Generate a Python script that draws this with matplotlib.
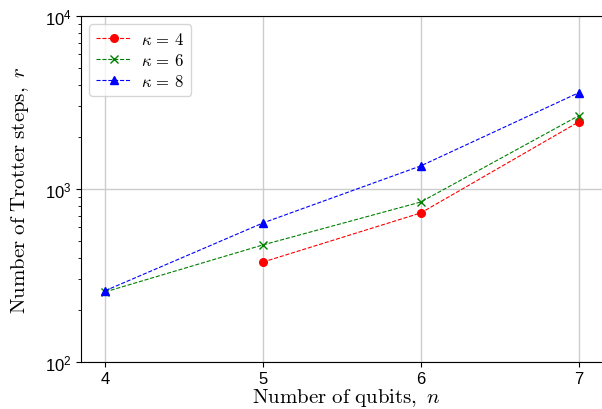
import matplotlib.pyplot as plt

plt.rcParams['mathtext.fontset'] = 'cm'
plt.rcParams['font.family'] = ['Liberation Sans', 'DejaVu Sans']

# dados
qubits_k4 = [5, 6, 7]
passos_k4 = [378, 727, 2440]
qubits_k6 = [4, 5, 6, 7]
passos_k6 = [254, 475, 841, 2650]
qubits_k8 = [4, 5, 6, 7]
passos_k8 = [258, 636, 1360, 3600]

fig = plt.figure(figsize=(6.02, 4.10), dpi=100)
# o eixo passa da borda direita (no original a lombada direita fica cortada)
ax = fig.add_axes([81 / 602, 47 / 410, 530 / 602, 346 / 410])

ax.plot(qubits_k4, passos_k4, 'r--', marker='o', markersize=5.5, linewidth=0.8, label=r'$\kappa\,=\,4$')
ax.plot(qubits_k6, passos_k6, 'g--', marker='x', markersize=5.5, linewidth=0.8, label=r'$\kappa\,=\,6$')
ax.plot(qubits_k8, passos_k8, 'b--', marker='^', markersize=6, linewidth=0.8, label=r'$\kappa\,=\,8$')

ax.set_yscale('log')
ax.set_ylim(100, 10000)
ax.set_xlim(3.848, 7.205)
ax.set_xticks([4, 5, 6, 7])
ax.tick_params(axis='both', which='major', labelsize=12, length=3.5, pad=3)
ax.tick_params(axis='y', which='minor', length=2)
ax.grid(True, which='major', color='#cccccc', linewidth=1.0)
ax.set_axisbelow(True)

ax.set_xlabel(r'$\mathrm{Number\ of\ qubits,}\ n$', fontsize=15, labelpad=0)
ax.set_ylabel(r'$\mathrm{Number\ of\ Trotter\ steps,}\ r$', fontsize=15, labelpad=10)

ax.legend(loc='upper left', fontsize=12, handlelength=2.1, labelspacing=0.3,
          borderpad=0.4, handletextpad=0.6)

plt.savefig('out.png', dpi=100)
